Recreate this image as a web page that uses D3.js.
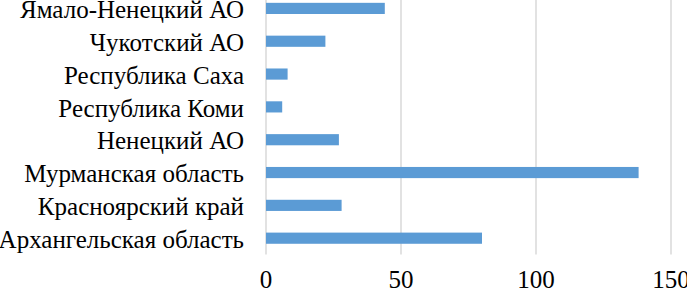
<!DOCTYPE html>
<html>
<head>
<meta charset="utf-8">
<script src="https://cdn.jsdelivr.net/npm/d3@7"></script>
<style>
  body { margin: 0; background: #fff; }
  svg { display: block; }
</style>
</head>
<body>
<div id="chart"></div>
<script>
// Data
const regions = [
  "Ямало-Ненецкий АО",
  "Чукотский АО",
  "Республика Саха",
  "Республика Коми",
  "Ненецкий АО",
  "Мурманская область",
  "Красноярский край",
  "Архангельская область"
];
const values = [44, 22, 8, 6, 27, 138, 28, 80];
const xTicks = [0, 50, 100, 150];

// Dimensions
const W = 687, H = 290;
const margin = {left: 266, right: 671, top: -8, bottom: 254.6};
const font = "'Liberation Serif', 'Times New Roman', serif";

const svg = d3.select("#chart").append("svg")
  .attr("width", W)
  .attr("height", H);

// Scales
const x = d3.scaleLinear().domain([0, 150]).range([margin.left, margin.right]);
const y = d3.scaleBand().domain(regions).range([margin.top, margin.bottom]).paddingInner(0.66).paddingOuter(0.33);

// Gridlines
svg.append("g")
  .selectAll("line")
  .data(xTicks)
  .enter()
  .append("line")
    .attr("x1", d => x(d))
    .attr("x2", d => x(d))
    .attr("y1", margin.top)
    .attr("y2", margin.bottom)
    .attr("stroke", "#d9d9d9")
    .attr("stroke-width", 1.5);

// Bars
svg.append("g")
  .selectAll("rect")
  .data(regions)
  .enter()
  .append("rect")
    .attr("x", x(0))
    .attr("y", d => y(d))
    .attr("width", (d, i) => x(values[i]) - x(0))
    .attr("height", y.bandwidth())
    .attr("fill", "#5b9bd5");

// Category labels
svg.append("g")
  .selectAll("text")
  .data(regions)
  .enter()
  .append("text")
    .attr("x", 244)
    .attr("y", d => y(d) + y.bandwidth() / 2 + 9.7)
    .attr("text-anchor", "end")
    .style("font-family", font)
    .style("font-size", "25px")
    .style("fill", "#000")
    .text(d => d);

// X tick labels
svg.append("g")
  .selectAll("text")
  .data(xTicks)
  .enter()
  .append("text")
    .attr("x", d => x(d))
    .attr("y", 288)
    .attr("text-anchor", "middle")
    .style("font-family", font)
    .style("font-size", "25px")
    .style("fill", "#000")
    .text(d => d);
</script>
</body>
</html>
